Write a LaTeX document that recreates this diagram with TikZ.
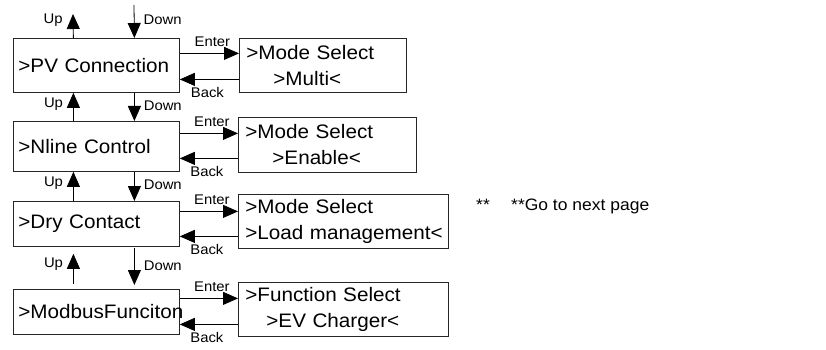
\documentclass[tikz,border=0pt]{standalone}
\usepackage{fontspec}
\setmainfont{Liberation Sans}[FakeStretch=1.06]
\usetikzlibrary{arrows.meta}

\begin{document}
\begin{tikzpicture}[
    x=1pt, y=-1pt,
    menu/.style={rectangle, draw=black!85, line width=0.8pt, anchor=north west, inner xsep=5pt, text width=156pt, align=left, font=\fontsize{19.5}{26}\selectfont},
    submenu/.style={rectangle, draw=black!85, line width=0.8pt, anchor=north west, inner xsep=7pt, align=left, font=\fontsize{19.5}{26}\selectfont},
    key/.style={font=\fontsize{14}{14}\selectfont, inner sep=1pt},
    note/.style={font=\fontsize{16.5}{16.5}\selectfont, inner sep=0pt, anchor=base west},
    arr/.style={-{Triangle[length=15pt 0 1, width=13pt 0 1]}, line width=0.8pt, draw=black}
]
    \useasboundingbox (0,0) rectangle (826,350);

    % Menu items
    \node[menu, minimum height=54pt] (pv) at (13,38) {>PV Connection};
    \node[menu, minimum height=50pt] (nline) at (13,121) {>Nline Control};
    \node[menu, minimum height=45pt] (dry) at (13,201) {>Dry Contact};
    \node[menu, minimum height=45pt] (modbus) at (13,289) {>ModbusFunciton};

    % Sub menus
    \node[submenu, text width=153pt, minimum height=54pt] (pvmode) at (239,38) {>Mode Select\\\hspace*{27pt}>Multi<};
    \node[submenu, text width=164pt, minimum height=55pt] (nlinemode) at (238,117) {>Mode Select\\\hspace*{27pt}>Enable<};
    \node[submenu, text width=196pt, minimum height=54pt] (drymode) at (238,194) {>Mode Select\\\mbox{>Load management<}};
    \node[submenu, text width=196pt, minimum height=54pt] (modbusfunc) at (238,282) {>Function Select\\\hspace*{21pt}>EV Charger<};

    % Note
    \node[note] (star) at (476,210) {**};
    \node[note] (nextpage) at (511,210) {**Go to next page};

    % Top ends
    \coordinate (upend) at (73,14);
    \coordinate (downstart) at (134,5);

    % Up / Down
    \draw[arr] ([xshift=-23pt]pv.north) -- (upend) node[pos=0.75, key, left=9pt] {Up};
    \draw[arr] (downstart) -- ([xshift=38pt]pv.north) node[pos=0.45, key, right=8pt] {Down};

    \draw[arr] ([xshift=-23pt]nline.north) -- ([xshift=-23pt]pv.south) node[pos=0.6, key, left=9pt] {Up};
    \draw[arr] ([xshift=38pt]pv.south) -- ([xshift=38pt]nline.north) node[pos=0.45, key, right=8pt] {Down};

    \draw[arr] ([xshift=-23pt]dry.north) -- ([xshift=-23pt]nline.south) node[pos=0.6, key, left=9pt] {Up};
    \draw[arr] ([xshift=38pt]nline.south) -- ([xshift=38pt]dry.north) node[pos=0.45, key, right=8pt] {Down};

    \draw[arr, shorten <=5pt, shorten >=7pt] ([xshift=-23pt]modbus.north) -- ([xshift=-23pt]dry.south) node[pos=0.6, key, left=9pt] {Up};
    \draw[arr, shorten <=1pt, shorten >=4pt] ([xshift=38pt]dry.south) -- ([xshift=38pt]modbus.north) node[pos=0.45, key, right=8pt] {Down};

    % Enter / Back
    \draw[arr] ([yshift=12pt]pv.east) -- ([yshift=12pt]pv.east -| pvmode.west) node[midway, key, above=5pt, xshift=3pt] {Enter};
    \draw[arr] ([yshift=-14pt]pv.east -| pvmode.west) -- ([yshift=-14pt]pv.east) node[midway, key, below=7pt, xshift=-2pt] {Back};

    \draw[arr] ([yshift=13pt]nline.east) -- ([yshift=13pt]nline.east -| nlinemode.west) node[midway, key, above=5pt, xshift=3pt] {Enter};
    \draw[arr] ([yshift=-12pt]nline.east -| nlinemode.west) -- ([yshift=-12pt]nline.east) node[midway, key, below=7pt, xshift=-2pt] {Back};

    \draw[arr] ([yshift=12.5pt]dry.east) -- ([yshift=12.5pt]dry.east -| drymode.west) node[midway, key, above=5pt, xshift=3pt] {Enter};
    \draw[arr] ([yshift=-12.5pt]dry.east -| drymode.west) -- ([yshift=-12.5pt]dry.east) node[midway, key, below=7pt, xshift=-2pt] {Back};

    \draw[arr] ([yshift=13.5pt]modbus.east) -- ([yshift=13.5pt]modbus.east -| modbusfunc.west) node[midway, key, above=5pt, xshift=3pt] {Enter};
    \draw[arr] ([yshift=-12.5pt]modbus.east -| modbusfunc.west) -- ([yshift=-12.5pt]modbus.east) node[midway, key, below=7pt, xshift=-2pt] {Back};

\end{tikzpicture}
\end{document}
